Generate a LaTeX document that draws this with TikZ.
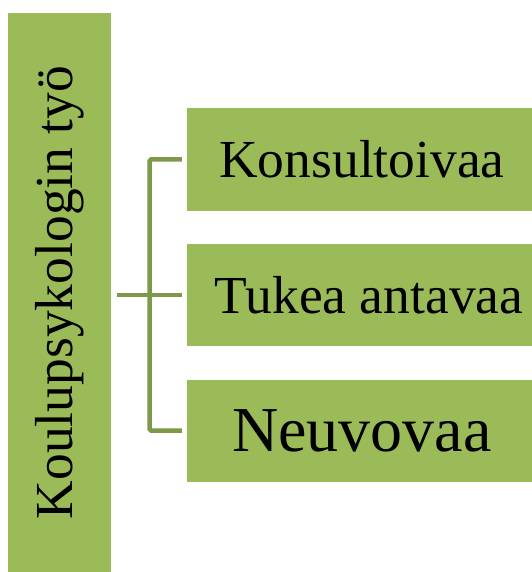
\documentclass[tikz,border=0pt]{standalone}
\usepackage{fontspec}
\setmainfont{Liberation Serif}
\definecolor{leaf}{HTML}{9BBB59}
\definecolor{stem}{HTML}{7E9A49}
\begin{document}
\begin{tikzpicture}[x=1pt, y=1pt, node distance={135.5pt},
  main/.style = {fill=leaf, minimum width=350pt, minimum height=102pt, inner sep=0pt, font=\fontsize{53.5}{60}\selectfont},
  head/.style = {fill=leaf, minimum width=103pt, minimum height=559pt, inner sep=0pt, font=\fontsize{53.5}{60}\selectfont},
  link/.style = {draw=stem, line width=4.5pt, rounded corners=1.5pt}]
\useasboundingbox (0,0) rectangle (531,-572);
\node[head] (1) at (59.5,-292.5) {\raisebox{0pt}{\rotatebox{90}{Koulupsykologin työ}}};
\node[main] (2) at (362,-159.5) {Konsultoivaa};
\node[main] (3) [below of=2] {\hspace*{14pt}Tukea antavaa};
\node[main, font=\fontsize{64}{70}\selectfont] (4) [below of=3] {Neuvovaa};
\coordinate (j) at (149.5,-295);

\draw[link] ([xshift=-5pt]2.west) -| (j) |- ([xshift=-5pt]4.west);
\draw[link] ([xshift=6pt]1.east |- 3.west) -- ([xshift=-5pt]3.west);
\end{tikzpicture}
\end{document}
